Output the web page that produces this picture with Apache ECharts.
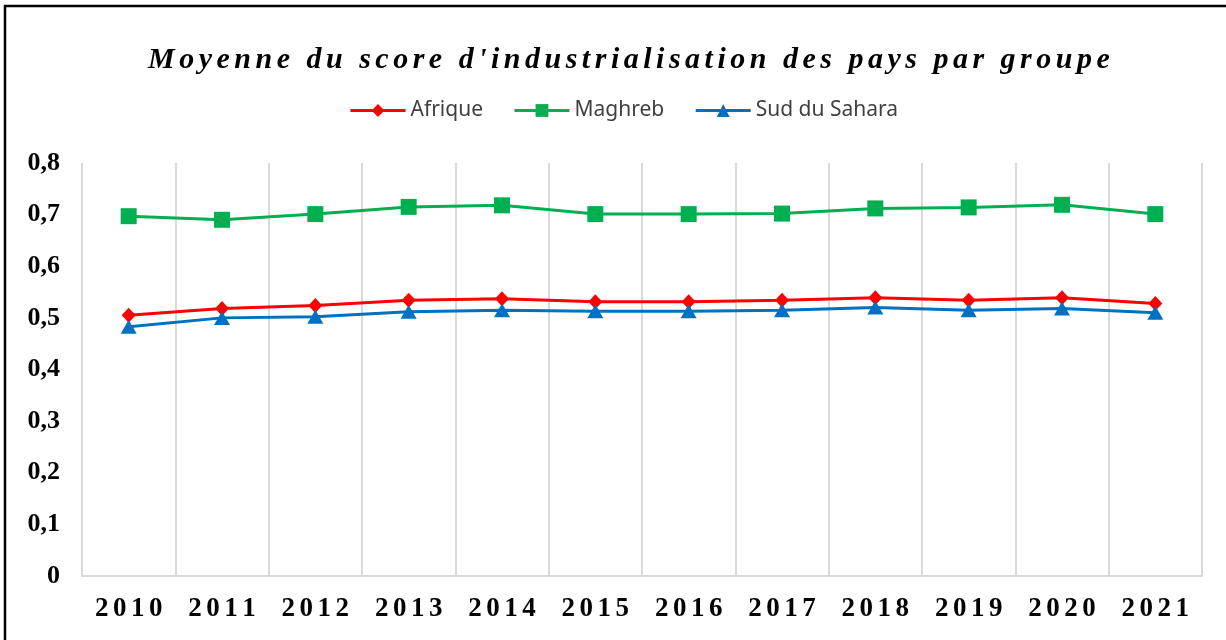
<!DOCTYPE html>
<html>
<head>
<meta charset="utf-8">
<script src="https://cdn.jsdelivr.net/npm/echarts@6/dist/echarts.min.js"></script>
<style>
  html, body { margin: 0; padding: 0; background: #fff; }
  .wrap { position: relative; width: 1226px; height: 640px; }
  #chart { width: 1226px; height: 640px; }
  .chart-title {
    position: absolute;
    left: 148px;
    top: 43px;
    margin: 0;
    font: italic bold 30px/30px "Liberation Serif", "Times New Roman", serif;
    letter-spacing: 4.5px;
    white-space: nowrap;
    color: #000;
  }
</style>
</head>
<body>
<div class="wrap">
  <div id="chart"></div>
  <div class="chart-title">Moyenne du score d'industrialisation des pays par groupe</div>
</div>
<script>
const years = ["2010", "2011", "2012", "2013", "2014", "2015", "2016", "2017", "2018", "2019", "2020", "2021"];
const afrique = [0.505, 0.518, 0.524, 0.534, 0.537, 0.531, 0.531, 0.534, 0.539, 0.534, 0.539, 0.528];
const maghreb = [0.697, 0.690, 0.701, 0.715, 0.718, 0.701, 0.701, 0.702, 0.712, 0.714, 0.719, 0.701];
const sudSahara = [0.483, 0.500, 0.502, 0.512, 0.515, 0.513, 0.513, 0.515, 0.520, 0.515, 0.518, 0.510];
const yTicks = [0, 0.1, 0.2, 0.3, 0.4, 0.5, 0.6, 0.7, 0.8];

const serif = "'Liberation Serif', 'Times New Roman', serif";
const chart = echarts.init(document.getElementById("chart"));

function lineSeries(name, data, color, symbol, symbolSize) {
  return {
    name,
    type: "line",
    data,
    symbol,
    symbolSize,
    lineStyle: { color, width: 3 },
    itemStyle: { color },
  };
}

// spaced-out year labels (each digit in its own fixed-width cell)
function spacedYear(v) {
  return v.split("").map((c) => `{c|${c}}`).join("");
}

chart.setOption({
  backgroundColor: "transparent",
  animation: false,
  legend: {
    top: 95,
    left: 344,
    itemWidth: 55,
    itemHeight: 16,
    itemGap: 30,
    lineStyle: { width: 3 },
    textStyle: { fontFamily: "'Noto Sans', sans-serif", fontSize: 21, color: "#404040" },
    data: ["Afrique", "Maghreb", "Sud du Sahara"],
  },
  graphic: [
    {
      type: "rect",
      shape: { x: 5, y: 6, width: 1400, height: 800 },
      style: { fill: "none", stroke: "#000", lineWidth: 2.5 },
      silent: true,
    },
  ],
  grid: { left: 82, right: 24, top: 163, bottom: 64 },
  xAxis: {
    type: "category",
    data: years,
    boundaryGap: true,
    axisLine: { lineStyle: { color: "#d9d9d9", width: 2 } },
    axisTick: { show: false, interval: 0 },
    splitLine: { show: true, interval: 0, lineStyle: { color: "#d9d9d9", width: 2 } },
    axisLabel: {
      interval: 0,
      margin: 20,
      formatter: spacedYear,
      rich: {
        c: {
          width: 18,
          align: "center",
          fontFamily: serif,
          fontWeight: "bold",
          fontSize: 27,
          color: "#000",
        },
      },
    },
  },
  yAxis: {
    type: "value",
    min: yTicks[0],
    max: yTicks[yTicks.length - 1],
    interval: 0.1,
    axisLine: { show: false },
    axisTick: { show: false },
    splitLine: { show: false },
    axisLabel: {
      margin: 22,
      fontFamily: serif,
      fontWeight: "bold",
      fontSize: 26,
      color: "#000",
      formatter: (v) => String(Math.round(v * 10) / 10).replace(".", ","),
    },
  },
  series: [
    lineSeries("Afrique", afrique, "#ff0000", "diamond", [14, 15]),
    lineSeries("Maghreb", maghreb, "#00b050", "rect", [16, 16]),
    lineSeries("Sud du Sahara", sudSahara, "#0070c0", "triangle", [16, 14]),
  ],
});
</script>
</body>
</html>
